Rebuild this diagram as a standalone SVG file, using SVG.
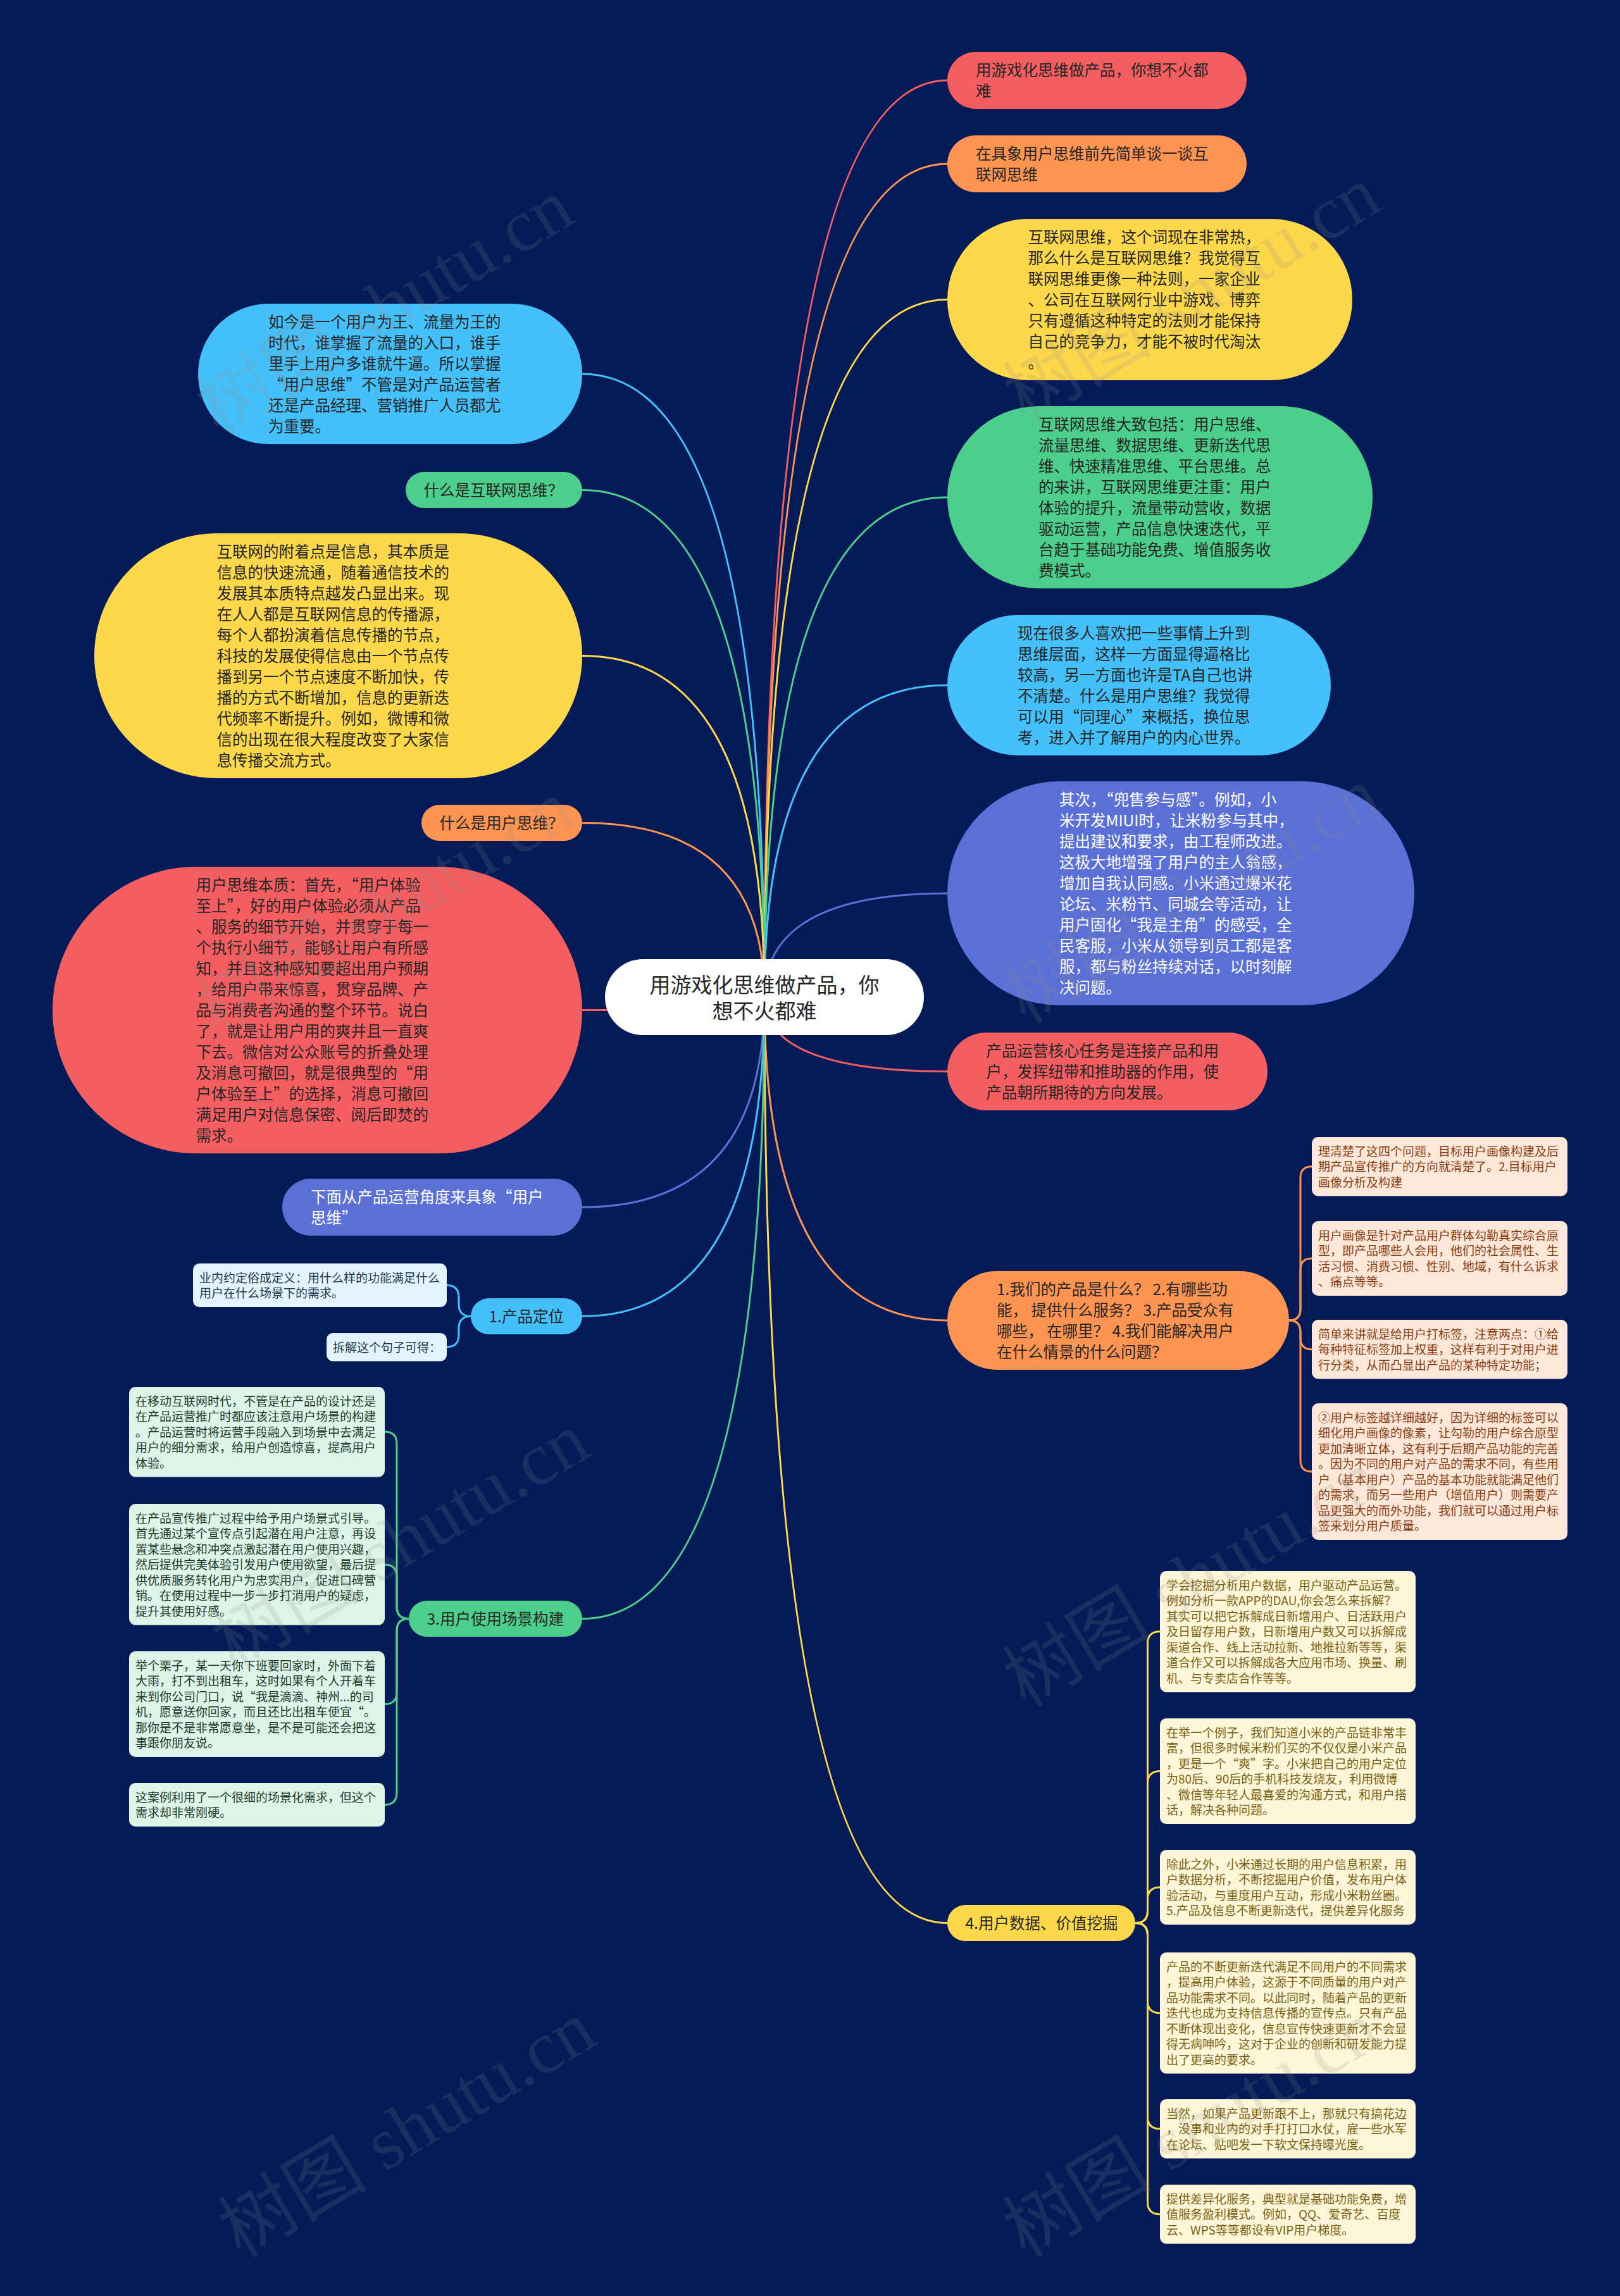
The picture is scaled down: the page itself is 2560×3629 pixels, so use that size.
<svg xmlns="http://www.w3.org/2000/svg" width="2560" height="3629" viewBox="0 0 2560 3629">
<style>
.t{font-family:"Noto Sans CJK SC","Liberation Sans",sans-serif;fill:#262626}
.t1{font-size:24.5px}
.t0{font-size:33px}
.t2{font-size:19px}
.w{fill:#ffffff}
.cb{fill:#1f3a4d}
.cg{fill:#1e3a2c}
.cp{fill:#8a3e12}
.cy{fill:#7a6112}
.red{fill:#f55e61}.ora{fill:#fd9451}.yel{fill:#fed84b}.grn{fill:#4ccf8b}.lbl{fill:#44c0fb}.ind{fill:#5b70d6}
.fb{fill:#e3f4fd}.fg{fill:#dcf5e8}.fp{fill:#fde7d8}.fy{fill:#fdf6d8}
.ln{fill:none;stroke-width:3}
.wm{font-family:"Liberation Serif","Noto Sans CJK SC",serif;font-size:118px;fill:#8c8c8c;opacity:0.17}
</style>
<rect x="0" y="0" width="2560" height="3629" fill="#041b58"/>
<g id="connectors">
<path class="ln" stroke="#f55e61" d="M1208 1576 Q1208 127 1497 127"/>
<path class="ln" stroke="#fd9451" d="M1208 1576 Q1208 259 1497 259"/>
<path class="ln" stroke="#fed84b" d="M1208 1576 Q1208 473.5 1497 473.5"/>
<path class="ln" stroke="#4ccf8b" d="M1208 1576 Q1208 786 1497 786"/>
<path class="ln" stroke="#44c0fb" d="M1208 1576 Q1208 1083 1497 1083"/>
<path class="ln" stroke="#5b70d6" d="M1208 1576 Q1208 1412 1497 1412"/>
<path class="ln" stroke="#f55e61" d="M1208 1576 Q1208 1693.5 1497 1693.5"/>
<path class="ln" stroke="#fd9451" d="M1208 1576 Q1208 2087 1497 2087"/>
<path class="ln" stroke="#fed84b" d="M1208 1576 Q1208 3039.5 1497 3039.5"/>
<path class="ln" stroke="#44c0fb" d="M1208 1576 Q1208 591 920 591"/>
<path class="ln" stroke="#4ccf8b" d="M1208 1576 Q1208 774.5 920 774.5"/>
<path class="ln" stroke="#fed84b" d="M1208 1576 Q1208 1036.5 920 1036.5"/>
<path class="ln" stroke="#fd9451" d="M1208 1576 Q1208 1300.5 920 1300.5"/>
<path class="ln" stroke="#f55e61" d="M1208 1576 Q1208 1596.5 920 1596.5"/>
<path class="ln" stroke="#5b70d6" d="M1208 1576 Q1208 1908 920 1908"/>
<path class="ln" stroke="#44c0fb" d="M1208 1576 Q1208 2080.5 920 2080.5"/>
<path class="ln" stroke="#4ccf8b" d="M1208 1576 Q1208 2558.5 920 2558.5"/>
<g stroke="#44c0fb" class="ln">
<path class="ln" d="M744 2080.5 Q725 2080.5 725 2061.5 V2050.5 Q725 2031.5 706 2031.5"/>
<path class="ln" d="M744 2080.5 Q725 2080.5 725 2099.5 V2110 Q725 2129 706 2129"/>
</g>
<g stroke="#4ccf8b" class="ln">
<path class="ln" d="M646 2558.5 Q627 2558.5 627 2539.5 V2282 Q627 2263 608 2263"/>
<path class="ln" d="M646 2558.5 Q627 2558.5 627 2539.5 V2492 Q627 2473 608 2473"/>
<path class="ln" d="M646 2558.5 Q627 2558.5 627 2577.5 V2674.5 Q627 2693.5 608 2693.5"/>
<path class="ln" d="M646 2558.5 Q627 2558.5 627 2577.5 V2833.5 Q627 2852.5 608 2852.5"/>
</g>
<g stroke="#fd9451" class="ln">
<path class="ln" d="M2037 2087 Q2055 2087 2055 2069 V1861.75 Q2055 1843.75 2073 1843.75"/>
<path class="ln" d="M2037 2087 Q2055 2087 2055 2069 V2007 Q2055 1989 2073 1989"/>
<path class="ln" d="M2037 2087 Q2055 2087 2055 2105 V2114.75 Q2055 2132.75 2073 2132.75"/>
<path class="ln" d="M2037 2087 Q2055 2087 2055 2105 V2308 Q2055 2326 2073 2326"/>
</g>
<g stroke="#fed84b" class="ln">
<path class="ln" d="M1794 3039.5 Q1813.5 3039.5 1813.5 3020.5 V2597.75 Q1813.5 2578.75 1833 2578.75"/>
<path class="ln" d="M1794 3039.5 Q1813.5 3039.5 1813.5 3020.5 V2818.5 Q1813.5 2799.5 1833 2799.5"/>
<path class="ln" d="M1794 3039.5 Q1813.5 3039.5 1813.5 3020.5 V3002 Q1813.5 2983 1833 2983"/>
<path class="ln" d="M1794 3039.5 Q1813.5 3039.5 1813.5 3058.5 V3162.75 Q1813.5 3181.75 1833 3181.75"/>
<path class="ln" d="M1794 3039.5 Q1813.5 3039.5 1813.5 3058.5 V3345.75 Q1813.5 3364.75 1833 3364.75"/>
<path class="ln" d="M1794 3039.5 Q1813.5 3039.5 1813.5 3058.5 V3480.75 Q1813.5 3499.75 1833 3499.75"/>
</g>
</g>

<g id="root">
<rect x="956" y="1516" width="504" height="120" rx="60" fill="#ffffff"/>
<text class="t t0" text-anchor="middle"><tspan x="1208" y="1569">用游戏化思维做产品，你</tspan><tspan x="1208" dy="41">想不火都难</tspan></text>
</g>

<g id="r1">
<rect class="red" x="1497" y="82" width="473" height="90" rx="45"/>
<text class="t t1"><tspan x="1542" y="119.8">用游戏化思维做产品，你想不火都</tspan><tspan x="1542" dy="33">难</tspan></text>
</g>
<g id="r2">
<rect class="ora" x="1497" y="214" width="473" height="90" rx="45"/>
<text class="t t1"><tspan x="1542" y="251.8">在具象用户思维前先简单谈一谈互</tspan><tspan x="1542" dy="33">联网思维</tspan></text>
</g>
<g id="r3">
<rect class="yel" x="1497" y="346" width="640" height="255" rx="127.5"/>
<text class="t t1"><tspan x="1624.5" y="383.8">互联网思维，这个词现在非常热，</tspan><tspan x="1624.5" dy="33">那么什么是互联网思维？我觉得互</tspan><tspan x="1624.5" dy="33">联网思维更像一种法则，一家企业</tspan><tspan x="1624.5" dy="33">、公司在互联网行业中游戏、博弈</tspan><tspan x="1624.5" dy="33">只有遵循这种特定的法则才能保持</tspan><tspan x="1624.5" dy="33">自己的竞争力，才能不被时代淘汰</tspan><tspan x="1624.5" dy="33">。</tspan></text>
</g>
<g id="r4">
<rect class="grn" x="1497" y="642" width="672" height="288" rx="144"/>
<text class="t t1"><tspan x="1641" y="679.8">互联网思维大致包括：用户思维、</tspan><tspan x="1641" dy="33">流量思维、数据思维、更新迭代思</tspan><tspan x="1641" dy="33">维、快速精准思维、平台思维。总</tspan><tspan x="1641" dy="33">的来讲，互联网思维更注重：用户</tspan><tspan x="1641" dy="33">体验的提升，流量带动营收，数据</tspan><tspan x="1641" dy="33">驱动运营，产品信息快速迭代，平</tspan><tspan x="1641" dy="33">台趋于基础功能免费、增值服务收</tspan><tspan x="1641" dy="33">费模式。</tspan></text>
</g>
<g id="r5">
<rect class="lbl" x="1497" y="972" width="606" height="222" rx="111"/>
<text class="t t1"><tspan x="1608" y="1009.8">现在很多人喜欢把一些事情上升到</tspan><tspan x="1608" dy="33">思维层面，这样一方面显得逼格比</tspan><tspan x="1608" dy="33">较高，另一方面也许是TA自己也讲</tspan><tspan x="1608" dy="33">不清楚。什么是用户思维？我觉得</tspan><tspan x="1608" dy="33">可以用“同理心”来概括，换位思</tspan><tspan x="1608" dy="33">考，进入并了解用户的内心世界。</tspan></text>
</g>
<g id="r6">
<rect class="ind" x="1497" y="1235" width="738" height="354" rx="177"/>
<text class="t t1 w"><tspan x="1674" y="1272.8">其次，“兜售参与感”。例如，小</tspan><tspan x="1674" dy="33">米开发MIUI时，让米粉参与其中，</tspan><tspan x="1674" dy="33">提出建议和要求，由工程师改进。</tspan><tspan x="1674" dy="33">这极大地增强了用户的主人翁感，</tspan><tspan x="1674" dy="33">增加自我认同感。小米通过爆米花</tspan><tspan x="1674" dy="33">论坛、米粉节、同城会等活动，让</tspan><tspan x="1674" dy="33">用户固化“我是主角”的感受，全</tspan><tspan x="1674" dy="33">民客服，小米从领导到员工都是客</tspan><tspan x="1674" dy="33">服，都与粉丝持续对话，以时刻解</tspan><tspan x="1674" dy="33">决问题。</tspan></text>
</g>
<g id="r7">
<rect class="red" x="1497" y="1632" width="506" height="123" rx="61.5"/>
<text class="t t1"><tspan x="1558.5" y="1669.8">产品运营核心任务是连接产品和用</tspan><tspan x="1558.5" dy="33">户，发挥纽带和推助器的作用，使</tspan><tspan x="1558.5" dy="33">产品朝所期待的方向发展。</tspan></text>
</g>
<g id="r8">
<rect class="ora" x="1497" y="2009" width="540" height="156" rx="78"/>
<text class="t t1"><tspan x="1575" y="2046.8">1.我们的产品是什么？ 2.有哪些功</tspan><tspan x="1575" dy="33">能， 提供什么服务？ 3.产品受众有</tspan><tspan x="1575" dy="33">哪些， 在哪里？ 4.我们能解决用户</tspan><tspan x="1575" dy="33">在什么情景的什么问题？</tspan></text>
</g>
<g id="r9">
<rect class="yel" x="1497" y="3011" width="297" height="57" rx="28.5"/>
<text class="t t1" x="1525.5" y="3048.8">4.用户数据、价值挖掘</text>
</g>

<g id="l1">
<rect class="lbl" x="313" y="480" width="607" height="222" rx="111"/>
<text class="t t1"><tspan x="424" y="517.8">如今是一个用户为王、流量为王的</tspan><tspan x="424" dy="33">时代，谁掌握了流量的入口，谁手</tspan><tspan x="424" dy="33">里手上用户多谁就牛逼。所以掌握</tspan><tspan x="424" dy="33">“用户思维”不管是对产品运营者</tspan><tspan x="424" dy="33">还是产品经理、营销推广人员都尤</tspan><tspan x="424" dy="33">为重要。</tspan></text>
</g>
<g id="l2">
<rect class="grn" x="641" y="746" width="279" height="57" rx="28.5"/>
<text class="t t1" x="669.5" y="783.8">什么是互联网思维？</text>
</g>
<g id="l3">
<rect class="yel" x="149" y="843" width="771" height="387" rx="193.5"/>
<text class="t t1"><tspan x="342.5" y="880.8">互联网的附着点是信息，其本质是</tspan><tspan x="342.5" dy="33">信息的快速流通，随着通信技术的</tspan><tspan x="342.5" dy="33">发展其本质特点越发凸显出来。现</tspan><tspan x="342.5" dy="33">在人人都是互联网信息的传播源，</tspan><tspan x="342.5" dy="33">每个人都扮演着信息传播的节点，</tspan><tspan x="342.5" dy="33">科技的发展使得信息由一个节点传</tspan><tspan x="342.5" dy="33">播到另一个节点速度不断加快，传</tspan><tspan x="342.5" dy="33">播的方式不断增加，信息的更新迭</tspan><tspan x="342.5" dy="33">代频率不断提升。例如，微博和微</tspan><tspan x="342.5" dy="33">信的出现在很大程度改变了大家信</tspan><tspan x="342.5" dy="33">息传播交流方式。</tspan></text>
</g>
<g id="l4">
<rect class="ora" x="666" y="1272" width="254" height="57" rx="28.5"/>
<text class="t t1" x="694.5" y="1309.8">什么是用户思维？</text>
</g>
<g id="l5">
<rect class="red" x="83" y="1370" width="837" height="453" rx="226.5"/>
<text class="t t1"><tspan x="309.5" y="1407.8">用户思维本质：首先，“用户体验</tspan><tspan x="309.5" dy="33">至上”，好的用户体验必须从产品</tspan><tspan x="309.5" dy="33">、服务的细节开始，并贯穿于每一</tspan><tspan x="309.5" dy="33">个执行小细节，能够让用户有所感</tspan><tspan x="309.5" dy="33">知，并且这种感知要超出用户预期</tspan><tspan x="309.5" dy="33">，给用户带来惊喜，贯穿品牌、产</tspan><tspan x="309.5" dy="33">品与消费者沟通的整个环节。说白</tspan><tspan x="309.5" dy="33">了，就是让用户用的爽并且一直爽</tspan><tspan x="309.5" dy="33">下去。微信对公众账号的折叠处理</tspan><tspan x="309.5" dy="33">及消息可撤回，就是很典型的“用</tspan><tspan x="309.5" dy="33">户体验至上”的选择，消息可撤回</tspan><tspan x="309.5" dy="33">满足用户对信息保密、阅后即焚的</tspan><tspan x="309.5" dy="33">需求。</tspan></text>
</g>
<g id="l6">
<rect class="ind" x="446" y="1863" width="474" height="90" rx="45"/>
<text class="t t1 w"><tspan x="491" y="1900.8">下面从产品运营角度来具象“用户</tspan><tspan x="491" dy="33">思维”</tspan></text>
</g>
<g id="l7">
<rect class="lbl" x="744" y="2052" width="176" height="57" rx="28.5"/>
<text class="t t1" x="772.5" y="2089.8">1.产品定位</text>
</g>
<g id="l8">
<rect class="grn" x="646" y="2530" width="274" height="57" rx="28.5"/>
<text class="t t1" x="674.5" y="2567.8">3.用户使用场景构建</text>
</g>

<g id="c1">
<rect class="fb" x="305" y="1997" width="401" height="69" rx="10"/>
<text class="t t2 cb"><tspan x="315" y="2026.5">业内约定俗成定义：用什么样的功能满足什么</tspan><tspan x="315" dy="24.5">用户在什么场景下的需求。</tspan></text>
</g>
<g id="c2">
<rect class="fb" x="516" y="2107" width="190" height="44.5" rx="10"/>
<text class="t t2 cb" x="526" y="2136.5">拆解这个句子可得：</text>
</g>

<g id="d1">
<rect class="fg" x="204" y="2192" width="404" height="142.5" rx="10"/>
<text class="t t2 cg"><tspan x="214" y="2221.5">在移动互联网时代，不管是在产品的设计还是</tspan><tspan x="214" dy="24.5">在产品运营推广时都应该注意用户场景的构建</tspan><tspan x="214" dy="24.5">。产品运营时将运营手段融入到场景中去满足</tspan><tspan x="214" dy="24.5">用户的细分需求，给用户创造惊喜，提高用户</tspan><tspan x="214" dy="24.5">体验。</tspan></text>
</g>
<g id="d2">
<rect class="fg" x="204" y="2377" width="404" height="191.5" rx="10"/>
<text class="t t2 cg"><tspan x="214" y="2406.5">在产品宣传推广过程中给予用户场景式引导。</tspan><tspan x="214" dy="24.5">首先通过某个宣传点引起潜在用户注意，再设</tspan><tspan x="214" dy="24.5">置某些悬念和冲突点激起潜在用户使用兴趣，</tspan><tspan x="214" dy="24.5">然后提供完美体验引发用户使用欲望，最后提</tspan><tspan x="214" dy="24.5">供优质服务转化用户为忠实用户，促进口碑营</tspan><tspan x="214" dy="24.5">销。在使用过程中一步一步打消用户的疑虑，</tspan><tspan x="214" dy="24.5">提升其使用好感。</tspan></text>
</g>
<g id="d3">
<rect class="fg" x="204" y="2610" width="404" height="167" rx="10"/>
<text class="t t2 cg"><tspan x="214" y="2639.5">举个栗子，某一天你下班要回家时，外面下着</tspan><tspan x="214" dy="24.5">大雨，打不到出租车，这时如果有个人开着车</tspan><tspan x="214" dy="24.5">来到你公司门口，说“我是滴滴、神州...的司</tspan><tspan x="214" dy="24.5">机，愿意送你回家，而且还比出租车便宜“。</tspan><tspan x="214" dy="24.5">那你是不是非常愿意坐，是不是可能还会把这</tspan><tspan x="214" dy="24.5">事跟你朋友说。</tspan></text>
</g>
<g id="d4">
<rect class="fg" x="204" y="2818" width="404" height="69" rx="10"/>
<text class="t t2 cg"><tspan x="214" y="2847.5">这案例利用了一个很细的场景化需求，但这个</tspan><tspan x="214" dy="24.5">需求却非常刚硬。</tspan></text>
</g>

<g id="s1">
<rect class="fp" x="2073" y="1797" width="404" height="93.5" rx="10"/>
<text class="t t2 cp"><tspan x="2083" y="1826.5">理清楚了这四个问题，目标用户画像构建及后</tspan><tspan x="2083" dy="24.5">期产品宣传推广的方向就清楚了。2.目标用户</tspan><tspan x="2083" dy="24.5">画像分析及构建</tspan></text>
</g>
<g id="s2">
<rect class="fp" x="2073" y="1930" width="404" height="118" rx="10"/>
<text class="t t2 cp"><tspan x="2083" y="1959.5">用户画像是针对产品用户群体勾勒真实综合原</tspan><tspan x="2083" dy="24.5">型，即产品哪些人会用，他们的社会属性、生</tspan><tspan x="2083" dy="24.5">活习惯、消费习惯、性别、地域，有什么诉求</tspan><tspan x="2083" dy="24.5">、痛点等等。</tspan></text>
</g>
<g id="s3">
<rect class="fp" x="2073" y="2086" width="404" height="93.5" rx="10"/>
<text class="t t2 cp"><tspan x="2083" y="2115.5">简单来讲就是给用户打标签，注意两点：①给</tspan><tspan x="2083" dy="24.5">每种特征标签加上权重，这样有利于对用户进</tspan><tspan x="2083" dy="24.5">行分类，从而凸显出产品的某种特定功能；</tspan></text>
</g>
<g id="s4">
<rect class="fp" x="2073" y="2218" width="404" height="216" rx="10"/>
<text class="t t2 cp"><tspan x="2083" y="2247.5">②用户标签越详细越好，因为详细的标签可以</tspan><tspan x="2083" dy="24.5">细化用户画像的像素，让勾勒的用户综合原型</tspan><tspan x="2083" dy="24.5">更加清晰立体，这有利于后期产品功能的完善</tspan><tspan x="2083" dy="24.5">。因为不同的用户对产品的需求不同，有些用</tspan><tspan x="2083" dy="24.5">户（基本用户）产品的基本功能就能满足他们</tspan><tspan x="2083" dy="24.5">的需求，而另一些用户（增值用户）则需要产</tspan><tspan x="2083" dy="24.5">品更强大的而外功能，我们就可以通过用户标</tspan><tspan x="2083" dy="24.5">签来划分用户质量。</tspan></text>
</g>

<g id="y1">
<rect class="fy" x="1833" y="2483" width="404" height="191.5" rx="10"/>
<text class="t t2 cy"><tspan x="1843" y="2512.5">学会挖掘分析用户数据，用户驱动产品运营。</tspan><tspan x="1843" dy="24.5">例如分析一款APP的DAU,你会怎么来拆解？</tspan><tspan x="1843" dy="24.5">其实可以把它拆解成日新增用户、日活跃用户</tspan><tspan x="1843" dy="24.5">及日留存用户数，日新增用户数又可以拆解成</tspan><tspan x="1843" dy="24.5">渠道合作、线上活动拉新、地推拉新等等，渠</tspan><tspan x="1843" dy="24.5">道合作又可以拆解成各大应用市场、换量、刷</tspan><tspan x="1843" dy="24.5">机、与专卖店合作等等。</tspan></text>
</g>
<g id="y2">
<rect class="fy" x="1833" y="2716" width="404" height="167" rx="10"/>
<text class="t t2 cy"><tspan x="1843" y="2745.5">在举一个例子，我们知道小米的产品链非常丰</tspan><tspan x="1843" dy="24.5">富，但很多时候米粉们买的不仅仅是小米产品</tspan><tspan x="1843" dy="24.5">，更是一个“爽”字。小米把自己的用户定位</tspan><tspan x="1843" dy="24.5">为80后、90后的手机科技发烧友，利用微博</tspan><tspan x="1843" dy="24.5">、微信等年轻人最喜爱的沟通方式，和用户搭</tspan><tspan x="1843" dy="24.5">话，解决各种问题。</tspan></text>
</g>
<g id="y3">
<rect class="fy" x="1833" y="2924" width="404" height="118" rx="10"/>
<text class="t t2 cy"><tspan x="1843" y="2953.5">除此之外，小米通过长期的用户信息积累，用</tspan><tspan x="1843" dy="24.5">户数据分析，不断挖掘用户价值，发布用户体</tspan><tspan x="1843" dy="24.5">验活动，与重度用户互动，形成小米粉丝圈。</tspan><tspan x="1843" dy="24.5">5.产品及信息不断更新迭代，提供差异化服务</tspan></text>
</g>
<g id="y4">
<rect class="fy" x="1833" y="3086" width="404" height="191.5" rx="10"/>
<text class="t t2 cy"><tspan x="1843" y="3115.5">产品的不断更新迭代满足不同用户的不同需求</tspan><tspan x="1843" dy="24.5">，提高用户体验，这源于不同质量的用户对产</tspan><tspan x="1843" dy="24.5">品功能需求不同。以此同时，随着产品的更新</tspan><tspan x="1843" dy="24.5">迭代也成为支持信息传播的宣传点。只有产品</tspan><tspan x="1843" dy="24.5">不断体现出变化，信息宣传快速更新才不会显</tspan><tspan x="1843" dy="24.5">得无病呻吟，这对于企业的创新和研发能力提</tspan><tspan x="1843" dy="24.5">出了更高的要求。</tspan></text>
</g>
<g id="y5">
<rect class="fy" x="1833" y="3318" width="404" height="93.5" rx="10"/>
<text class="t t2 cy"><tspan x="1843" y="3347.5">当然，如果产品更新跟不上，那就只有搞花边</tspan><tspan x="1843" dy="24.5">，没事和业内的对手打打口水仗，雇一些水军</tspan><tspan x="1843" dy="24.5">在论坛、贴吧发一下软文保持曝光度。</tspan></text>
</g>
<g id="y6">
<rect class="fy" x="1833" y="3453" width="404" height="93.5" rx="10"/>
<text class="t t2 cy"><tspan x="1843" y="3482.5">提供差异化服务，典型就是基础功能免费，增</tspan><tspan x="1843" dy="24.5">值服务盈利模式。例如，QQ、爱奇艺、百度</tspan><tspan x="1843" dy="24.5">云、WPS等等都设有VIP用户梯度。</tspan></text>
</g>

<g id="watermarks">
<text class="wm" transform="translate(345 690) rotate(-31)">树图 shutu.cn</text>
<text class="wm" transform="translate(1620 670) rotate(-31)">树图 shutu.cn</text>
<text class="wm" transform="translate(345 1640) rotate(-31)">树图 shutu.cn</text>
<text class="wm" transform="translate(1620 1620) rotate(-31)">树图 shutu.cn</text>
<text class="wm" transform="translate(370 2640) rotate(-31)">树图 shutu.cn</text>
<text class="wm" transform="translate(1620 2700) rotate(-31)">树图 shutu.cn</text>
<text class="wm" transform="translate(380 3570) rotate(-31)">树图 shutu.cn</text>
<text class="wm" transform="translate(1620 3570) rotate(-31)">树图 shutu.cn</text>
</g>
</svg>
